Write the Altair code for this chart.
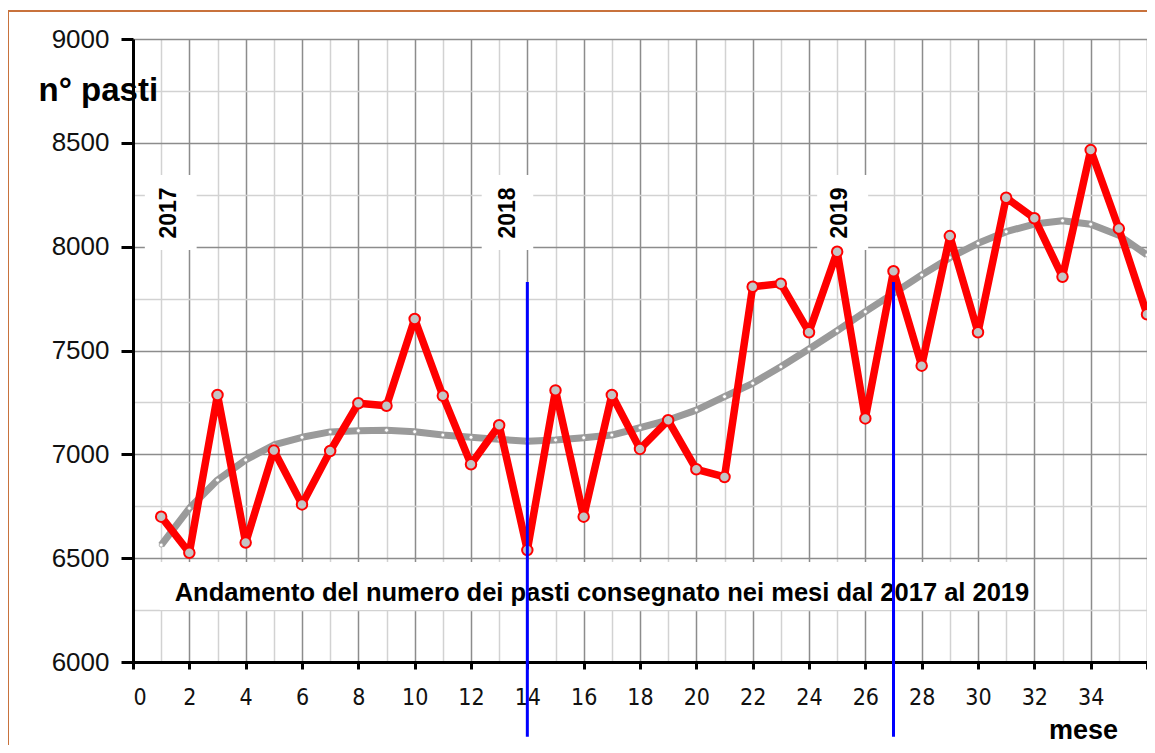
import altair as alt
import pandas as pd

# ---- data ----
months = list(range(1, 37))
pasti = [6700, 6526, 7286, 6575, 7018, 6759, 7016, 7246, 7234, 7652,
         7282, 6952, 7140, 6539, 7308, 6700, 7286, 7026, 7164, 6928,
         6891, 7807, 7822, 7588, 7976, 7173, 7882, 7427, 8051, 7588,
         8236, 8137, 7855, 8465, 8087, 7674]
trend = [6563, 6740, 6876, 6973, 7045, 7082, 7108, 7114, 7116, 7109,
         7093, 7082, 7072, 7063, 7069, 7080, 7093, 7128, 7165, 7213,
         7278, 7342, 7422, 7507, 7595, 7687, 7775, 7864, 7947, 8016,
         8072, 8109, 8125, 8108, 8055, 7960]

year_labels = ["2017", "2018", "2019"]
year_x = [1.27, 13.3, 25.1]
year_y = [8162, 8162, 8162]
year_box_x0 = [0.42, 12.38, 24.29]
year_box_x1 = [2.26, 14.21, 26.10]
year_box_y0 = [7984, 7984, 7984]
year_box_y1 = [8345, 8345, 8345]

divider_months = [14, 27]
divider_top = [7830, 7830]
divider_bottom = [5640, 5640]

title_text = "Andamento del numero dei pasti consegnato nei mesi dal 2017 al 2019"
title_x = [16.65]
title_y = [6295]
title_box_x0 = [0.95]
title_box_x1 = [31.93]
title_box_y0 = [6250]
title_box_y1 = [6482]

x_ticks = list(range(0, 37))
y_ticks = list(range(6000, 9001, 250))

# ---- tables ----
series = pd.DataFrame({"mese": months, "pasti": pasti, "trend": trend})
years = pd.DataFrame({"mese": year_x, "pasti": year_y, "label": year_labels,
                      "x0": year_box_x0, "x1": year_box_x1,
                      "y0": year_box_y0, "y1": year_box_y1})
dividers = pd.DataFrame({"mese": divider_months, "top": divider_top, "bottom": divider_bottom})
title_df = pd.DataFrame({"mese": title_x, "pasti": title_y, "label": [title_text],
                         "x0": title_box_x0, "x1": title_box_x1,
                         "y0": title_box_y0, "y1": title_box_y1})

FONT = "Liberation Sans, Arial, sans-serif"
NARROW = "Liberation Sans Narrow, Arial Narrow, DejaVu Sans Condensed, Liberation Sans, sans-serif"

x_axis = alt.Axis(
    values=x_ticks,
    title="mese",
    titleFont=FONT, titleFontSize=27, titleFontWeight="bold", titleColor="black",
    titleX=950, titleY=76, titleAlign="center", titleBaseline="alphabetic",
    labelExpr="(datum.value % 2 === 0 && datum.value < 36) ? datum.label : ''",
    labelFont=NARROW, labelFontSize=23, labelColor="#111", labelPadding=17,
    tickSize=7, tickWidth=3, tickColor="black",
    tickOpacity={"condition": {"test": "datum.value % 2 === 0", "value": 1}, "value": 0},
    domainColor="black", domainWidth=3,
    grid=True, gridWidth=1.5,
    gridColor={"condition": {"test": "datum.value % 2 === 0", "value": "#8c8c8c"}, "value": "#d2d2d2"},
)
y_axis = alt.Axis(
    values=y_ticks,
    title="n° pasti",
    titleFont=FONT, titleFontSize=33, titleFontWeight="bold", titleColor="black",
    titleAngle=0, titleX=-95, titleY=61, titleAlign="left", titleBaseline="alphabetic",
    labelExpr="datum.value % 500 === 0 ? datum.label : ''",
    format="d",
    labelFont=FONT, labelFontSize=26, labelColor="#111", labelPadding=12,
    tickSize=12, tickWidth=3, tickColor="black",
    tickOpacity={"condition": {"test": "datum.value % 500 === 0", "value": 1}, "value": 0},
    domainColor="black", domainWidth=3,
    grid=True, gridWidth=1.5,
    gridColor={"condition": {"test": "datum.value % 500 === 0", "value": "#8c8c8c"}, "value": "#d2d2d2"},
)

xs = alt.Scale(domain=[0, 36], nice=False, zero=False)
ys = alt.Scale(domain=[6000, 9000], nice=False, zero=False)

def X(field):
    return alt.X(field, type="quantitative", scale=xs, axis=x_axis)

def Y(field):
    return alt.Y(field, type="quantitative", scale=ys, axis=y_axis)

base = alt.Chart(series)

trend_line = base.mark_line(color="#9a9a9a", strokeWidth=7, strokeJoin="round").encode(
    x=X("mese"), y=Y("trend"))
trend_pts = base.mark_point(filled=True, fill="white", stroke="#9a9a9a", strokeWidth=0.8,
                            size=16, opacity=1).encode(x=X("mese"), y=Y("trend"))
red_line = base.mark_line(color="#ff0000", strokeWidth=7.5, strokeJoin="round").encode(
    x=X("mese"), y=Y("pasti"))
red_pts = base.mark_point(filled=True, fill="#c4c4c4", stroke="#ff0000", strokeWidth=2,
                          size=110, opacity=1).encode(x=X("mese"), y=Y("pasti"))

year_boxes = alt.Chart(years).mark_rect(color="white").encode(
    x=X("x0"), x2="x1", y=Y("y0"), y2="y1")
year_text = alt.Chart(years).mark_text(angle=270, font=FONT, fontSize=23, fontWeight="bold",
                                       color="black", align="center", baseline="middle").encode(
    x=X("mese"), y=Y("pasti"), text="label:N")

title_box = alt.Chart(title_df).mark_rect(color="white").encode(
    x=X("x0"), x2="x1", y=Y("y0"), y2="y1")
title_mark = alt.Chart(title_df).mark_text(font=FONT, fontSize=25.5, fontWeight="bold",
                                           color="black", align="center",
                                           baseline="alphabetic").encode(
    x=X("mese"), y=Y("pasti"), text="label:N")

rules = alt.Chart(dividers).mark_rule(color="#0000ff", strokeWidth=3).encode(
    x=X("mese"), y=Y("top"), y2="bottom")

frame_top = alt.Chart(series).mark_rule(color="#c8733c", strokeWidth=1).encode(
    x=alt.value(-125), x2=alt.value(1020), y=alt.value(-28))
frame_left = alt.Chart(series).mark_rule(color="#c8733c", strokeWidth=1).encode(
    x=alt.value(-125), y=alt.value(-28), y2=alt.value(720))

chart = alt.layer(
    year_boxes, title_box, trend_line, trend_pts, red_line, red_pts,
    year_text, title_mark, rules, frame_top, frame_left
).properties(
    width=1014, height=623,
    padding={"left": 125, "top": 31, "right": 0, "bottom": 83},
    autosize=alt.AutoSizeParams(type="none"),
).configure_view(
    stroke="#333333", strokeWidth=3
).configure(background="white")

chart.save("out.html", embed_options={"renderer": "svg", "actions": False})
